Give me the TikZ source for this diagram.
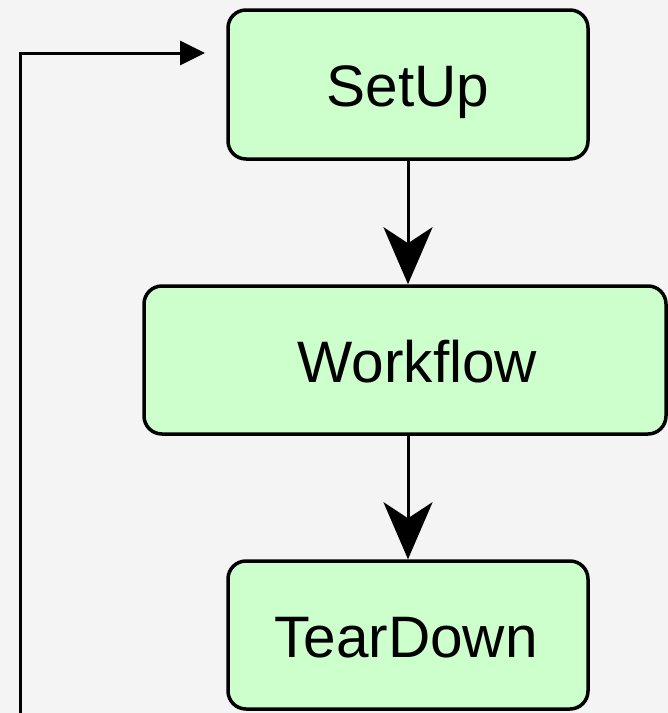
\documentclass[tikz,border=0pt]{standalone}
\usepackage{fontspec}
\setmainfont{Liberation Sans}
\usetikzlibrary{arrows.meta}
\definecolor{stepfill}{HTML}{CCFFCC}
\definecolor{pagebg}{HTML}{F4F4F4}
\begin{document}
\begin{tikzpicture}[x=1pt,y=-1pt,
  stepbox/.style={draw=black, fill=stepfill, line width=3.5pt, rounded corners=18pt,
    rectangle, inner sep=0pt, text height=44pt, text depth=0pt,
    font=\fontsize{58.5}{70}\selectfont},
  flow/.style={line width=3pt, -{Stealth[length=57pt,width=49pt,inset=16pt]}},
  loop/.style={line width=3pt, -{Triangle[length=25pt,width=24pt]}}]
  % page background
  \fill[pagebg] (0,0) rectangle (668,713);
  \useasboundingbox (0,0) rectangle (668,713);

  % process steps
  \node[stepbox, minimum width=360pt, minimum height=149pt] (setup) at (408,84.5) {SetUp};
  \node[stepbox, minimum width=522pt, minimum height=148pt] (workflow) at (405,360) {\hspace*{25pt}Workflow};
  \node[stepbox, minimum width=360pt, minimum height=148pt] (teardown) at (408,635) {TearDown\hspace*{4pt}};

  % forward flow
  \draw[flow] (setup.south) -- (setup.south |- workflow.north);
  \draw[flow] (teardown.north |- workflow.south) -- (teardown.north);

  % return path back to the first step
  \coordinate (loopstart) at (20,716);
  \coordinate (loopend) at (205,53);
  \draw[loop] (loopstart) |- (loopend);
\end{tikzpicture}
\end{document}
